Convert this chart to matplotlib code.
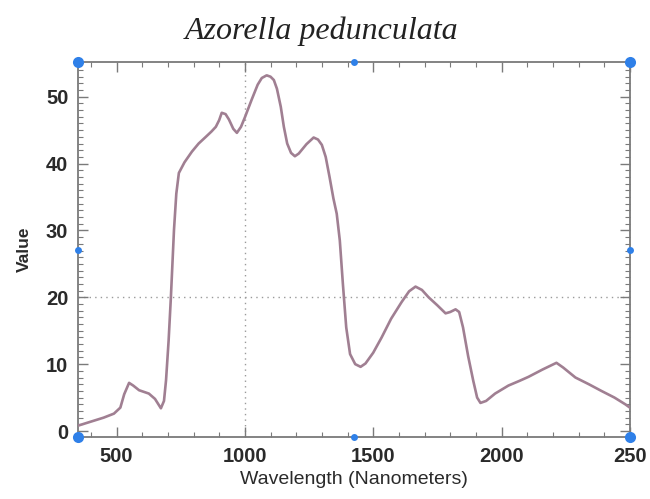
import matplotlib
matplotlib.use("Agg")
import matplotlib.pyplot as plt
from matplotlib.ticker import MultipleLocator, FixedLocator

# ===============================
# 1. Data
# ===============================
wavelength = [350, 400, 450, 490, 515, 530, 549, 565, 588, 626, 650, 673,
              685, 693, 703, 712, 724, 733, 743, 765, 794, 820, 848, 870,
              887, 900, 910, 925, 938, 955, 969, 985, 1000, 1027, 1050,
              1066, 1085, 1100, 1113, 1125, 1140, 1152, 1165, 1180, 1195,
              1210, 1240, 1268, 1285, 1300, 1315, 1330, 1345, 1358, 1370,
              1382, 1395, 1410, 1430, 1451, 1470, 1500, 1533, 1570, 1611,
              1640, 1665, 1690, 1716, 1750, 1782, 1800, 1821, 1835, 1850,
              1870, 1890, 1905, 1918, 1940, 1975, 2027, 2070, 2105, 2160,
              2214, 2240, 2288, 2340, 2389, 2440, 2482, 2500]
value = [0.8, 1.4, 2.0, 2.6, 3.5, 5.5, 7.2, 6.8, 6.1, 5.6, 4.8, 3.4,
         4.5, 7.6, 13.5, 20.1, 30.1, 35.5, 38.6, 40.2, 41.8, 43.0, 44.0, 44.8,
         45.5, 46.5, 47.6, 47.4, 46.6, 45.2, 44.6, 45.5, 46.9, 49.6, 51.8,
         52.8, 53.2, 53.0, 52.5, 51.2, 48.5, 45.5, 43.0, 41.6, 41.1,
         41.5, 42.9, 43.9, 43.6, 42.8, 41.0, 38.0, 34.8, 32.5, 28.5,
         22.0, 15.5, 11.5, 10.0, 9.6, 10.1, 11.7, 14.0, 16.8, 19.3,
         20.9, 21.6, 21.1, 20.0, 18.8, 17.6, 17.8, 18.2, 17.8, 15.5,
         11.2, 7.5, 5.0, 4.2, 4.5, 5.6, 6.8, 7.5, 8.1, 9.2,
         10.2, 9.5, 8.0, 7.0, 6.0, 5.0, 4.0, 3.5]

x_ticks = [500, 1000, 1500, 2000, 2500]
x_tick_labels = ["500", "1000", "1500", "2000", "250"]
y_ticks = [0, 10, 20, 30, 40, 50]

title = "Azorella pedunculata"

# ===============================
# 2. Figure
# ===============================
fig = plt.figure(figsize=(6.5, 4.99), dpi=100)
ax = fig.add_axes([0.12, 0.1242, 0.849, 0.7516])

spine_col = "#7a7a7a"
line_col = "#a07f92"

ax.plot(wavelength, value, color=line_col, linewidth=1.9, zorder=3,
        solid_joinstyle="round", solid_capstyle="round")

# dotted reference lines
ax.axvline(1000, color="#9a9a9a", linestyle=(0, (1, 3)), linewidth=1.0, zorder=1)
ax.axhline(20, color="#9a9a9a", linestyle=(0, (1, 3)), linewidth=1.0, zorder=1)

ax.set_xlim(350, 2500)
ax.set_ylim(-0.9, 55.2)

ax.xaxis.set_major_locator(FixedLocator(x_ticks))
ax.set_xticklabels(x_tick_labels)
ax.xaxis.set_minor_locator(MultipleLocator(100))
ax.yaxis.set_major_locator(FixedLocator(y_ticks))
ax.yaxis.set_minor_locator(MultipleLocator(1))

for s in ax.spines.values():
    s.set_color(spine_col)
    s.set_linewidth(1.3)

ax.tick_params(which="both", direction="in", top=True, right=True,
               colors=spine_col, labelcolor="#2a2a2a")
ax.tick_params(which="major", length=7, width=1.0, labelsize=14.5, pad=7)
ax.tick_params(which="minor", length=3.5, width=0.8)
for lab in ax.get_xticklabels() + ax.get_yticklabels():
    lab.set_fontfamily("Liberation Sans")
    lab.set_fontweight("bold")

ax.set_xlabel("Wavelength (Nanometers)", fontsize=14, family="Liberation Sans",
              color="#2a2a2a", labelpad=4)
ax.set_ylabel("Value", fontsize=12.5, family="Liberation Sans",
              fontweight="bold", color="#2a2a2a", labelpad=10)

fig.text(0.495, 0.922, title, fontsize=23, family="Liberation Serif",
         style="italic", color="#222222", ha="center", va="baseline")

# selection handles seen in the picture
handle_col = "#2f80e8"
for hx, hy, ms in [(0, 0, 8), (1, 0, 8), (0, 1, 8), (1, 1, 8),
                   (0.5, 0, 5), (0.5, 1, 5), (0, 0.5, 5), (1, 0.5, 5)]:
    ax.plot(hx, hy, "o", color=handle_col, markersize=ms, markeredgewidth=0,
            transform=ax.transAxes, clip_on=False, zorder=5)

fig.savefig("out.png", dpi=100)
